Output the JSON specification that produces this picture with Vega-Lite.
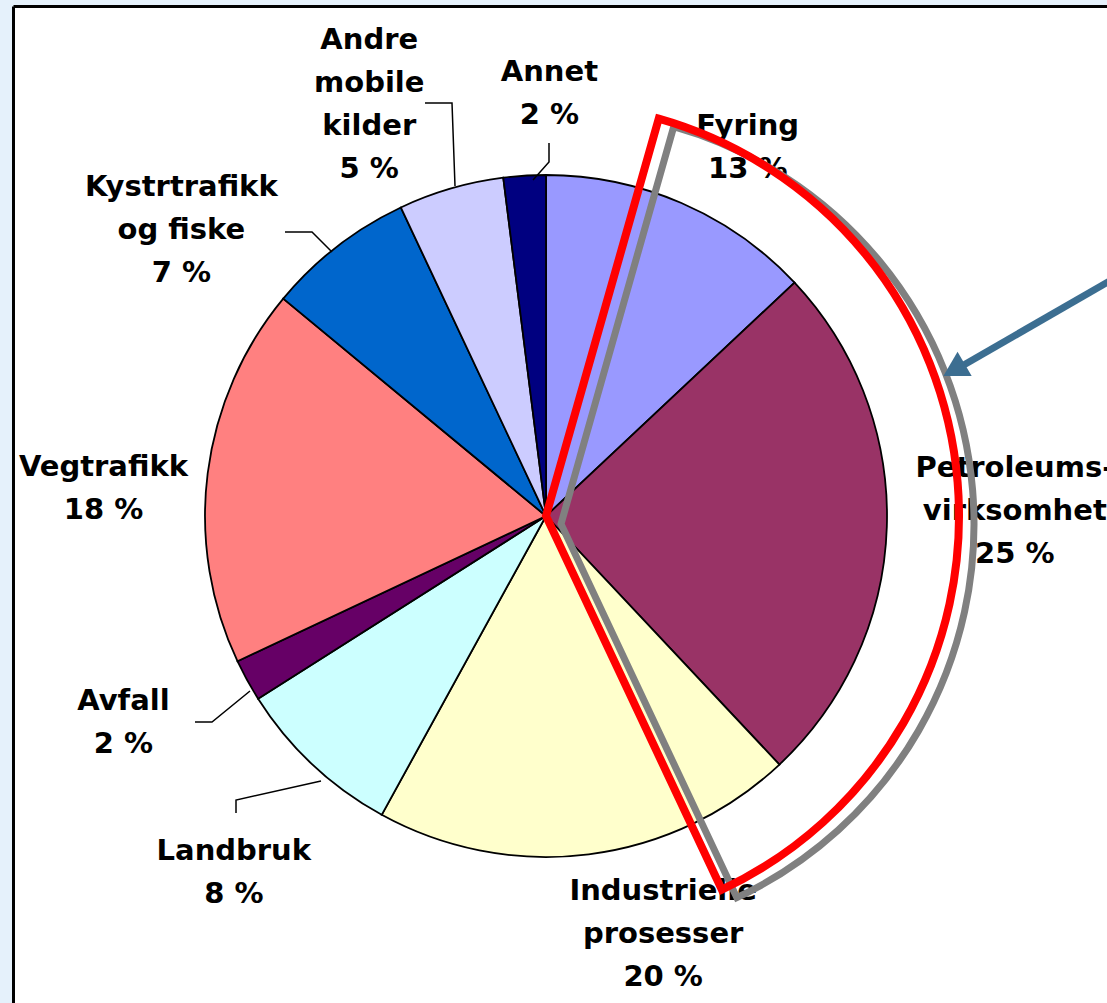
{
  "$schema": "https://vega.github.io/schema/vega-lite/v6.json",
  "width": 1094,
  "height": 997,
  "autosize": "none",
  "padding": {"left": 13, "top": 6, "right": 0, "bottom": 0},
  "background": "#E5F1FB",
  "config": {"view": {"fill": "white", "stroke": null}},
  "datasets": {
    "slices": [
      {"i": 1, "cat": "Fyring", "value": 13, "label": "Fyring\n13 %"},
      {"i": 2, "cat": "Petroleumsvirksomhet", "value": 25, "label": "Petroleums-\nvirksomhet\n25 %"},
      {"i": 3, "cat": "Industrielle prosesser", "value": 20, "label": "Industrielle\nprosesser\n20 %"},
      {"i": 4, "cat": "Landbruk", "value": 8, "label": "Landbruk\n8 %"},
      {"i": 5, "cat": "Avfall", "value": 2, "label": "Avfall\n2 %"},
      {"i": 6, "cat": "Vegtrafikk", "value": 18, "label": "Vegtrafikk\n18 %"},
      {"i": 7, "cat": "Kystrtrafikk og fiske", "value": 7, "label": "Kystrtrafikk\nog fiske\n7 %"},
      {"i": 8, "cat": "Andre mobile kilder", "value": 5, "label": "Andre\nmobile\nkilder\n5 %"},
      {"i": 9, "cat": "Annet", "value": 2, "label": "Annet\n2 %"}
    ],
    "leaders": [
      {"id": "andre", "k": 1, "x": -121, "y": 413},
      {"id": "andre", "k": 2, "x": -94, "y": 413},
      {"id": "andre", "k": 3, "x": -91, "y": 330},
      {"id": "annet", "k": 1, "x": 3, "y": 373},
      {"id": "annet", "k": 2, "x": 3, "y": 354},
      {"id": "annet", "k": 3, "x": -13, "y": 336},
      {"id": "kystr", "k": 1, "x": -261, "y": 284},
      {"id": "kystr", "k": 2, "x": -234, "y": 284},
      {"id": "kystr", "k": 3, "x": -214, "y": 264},
      {"id": "avfall", "k": 1, "x": -351, "y": -206},
      {"id": "avfall", "k": 2, "x": -334, "y": -206},
      {"id": "avfall", "k": 3, "x": -296, "y": -175},
      {"id": "landbruk", "k": 1, "x": -310, "y": -297},
      {"id": "landbruk", "k": 2, "x": -310, "y": -284},
      {"id": "landbruk", "k": 3, "x": -225, "y": -265}
    ],
    "wedge": [{"from": 4.4, "to": 43.0}],
    "arrow": [{"x": 574, "y": 241, "x2": 416, "y2": 150, "hx": 408, "hy": 146}]
  },
  "layer": [
    {
      "data": {"name": "slices"},
      "mark": {"type": "arc", "outerRadius": 341, "stroke": "black", "strokeWidth": 1.8},
      "encoding": {
        "x": {"datum": 0, "type": "quantitative", "scale": {"domain": [-533, 561], "nice": false, "zero": false}, "axis": {"orient": "top", "domainColor": "black", "domainWidth": 3, "ticks": false, "labels": false, "grid": false, "title": null}},
        "y": {"datum": 0, "type": "quantitative", "scale": {"domain": [-487, 510], "nice": false, "zero": false}, "axis": {"orient": "left", "domainColor": "black", "domainWidth": 3, "ticks": false, "labels": false, "grid": false, "title": null}},
        "theta": {"field": "value", "type": "quantitative", "stack": true},
        "order": {"field": "i"},
        "color": {"field": "cat", "type": "nominal", "legend": null,
          "scale": {"domain": ["Fyring", "Petroleumsvirksomhet", "Industrielle prosesser", "Landbruk", "Avfall", "Vegtrafikk", "Kystrtrafikk og fiske", "Andre mobile kilder", "Annet"],
                    "range": ["#9999FF", "#993366", "#FFFFCC", "#CCFFFF", "#660066", "#FF8080", "#0066CC", "#CCCCFF", "#000080"]}}
      }
    },
    {
      "data": {"name": "leaders"},
      "mark": {"type": "line", "stroke": "black", "strokeWidth": 1.5},
      "encoding": {
        "x": {"field": "x", "type": "quantitative", "axis": {"orient": "top", "domainColor": "black", "domainWidth": 3, "ticks": false, "labels": false, "grid": false, "title": null}},
        "y": {"field": "y", "type": "quantitative", "axis": {"orient": "left", "domainColor": "black", "domainWidth": 3, "ticks": false, "labels": false, "grid": false, "title": null}},
        "detail": {"field": "id"},
        "order": {"field": "k"}
      }
    },
    {"data": {"name": "slices"}, "mark": {"type": "text", "radius": 440, "dx": 27, "dy": 14, "font": "DejaVu Sans", "fontWeight": "bold", "fontSize": 29, "lineHeight": 43, "lineBreak": "\n", "align": "center", "baseline": "middle", "color": "black"},
     "encoding": {"x": {"datum": 0, "type": "quantitative"}, "y": {"datum": 0, "type": "quantitative"}, "theta": {"field": "value", "type": "quantitative", "stack": true}, "order": {"field": "i"}, "detail": {"field": "cat"}, "text": {"condition": {"test": "datum.cat === 'Fyring'", "field": "label"}, "value": ""}}},
    {"data": {"name": "slices"}, "mark": {"type": "text", "radius": 440, "dx": 29, "dy": -62, "font": "DejaVu Sans", "fontWeight": "bold", "fontSize": 29, "lineHeight": 43, "lineBreak": "\n", "align": "center", "baseline": "middle", "color": "black"},
     "encoding": {"x": {"datum": 0, "type": "quantitative"}, "y": {"datum": 0, "type": "quantitative"}, "theta": {"field": "value", "type": "quantitative", "stack": true}, "order": {"field": "i"}, "detail": {"field": "cat"}, "text": {"condition": {"test": "datum.cat === 'Petroleumsvirksomhet'", "field": "label"}, "value": ""}}},
    {"data": {"name": "slices"}, "mark": {"type": "text", "radius": 440, "dx": 62, "dy": -62, "font": "DejaVu Sans", "fontWeight": "bold", "fontSize": 29, "lineHeight": 43, "lineBreak": "\n", "align": "center", "baseline": "middle", "color": "black"},
     "encoding": {"x": {"datum": 0, "type": "quantitative"}, "y": {"datum": 0, "type": "quantitative"}, "theta": {"field": "value", "type": "quantitative", "stack": true}, "order": {"field": "i"}, "detail": {"field": "cat"}, "text": {"condition": {"test": "datum.cat === 'Industrielle prosesser'", "field": "label"}, "value": ""}}},
    {"data": {"name": "slices"}, "mark": {"type": "text", "radius": 440, "dx": -11, "dy": 14, "font": "DejaVu Sans", "fontWeight": "bold", "fontSize": 29, "lineHeight": 43, "lineBreak": "\n", "align": "center", "baseline": "middle", "color": "black"},
     "encoding": {"x": {"datum": 0, "type": "quantitative"}, "y": {"datum": 0, "type": "quantitative"}, "theta": {"field": "value", "type": "quantitative", "stack": true}, "order": {"field": "i"}, "detail": {"field": "cat"}, "text": {"condition": {"test": "datum.cat === 'Landbruk'", "field": "label"}, "value": ""}}},
    {"data": {"name": "slices"}, "mark": {"type": "text", "radius": 440, "dx": -37, "dy": -27, "font": "DejaVu Sans", "fontWeight": "bold", "fontSize": 29, "lineHeight": 43, "lineBreak": "\n", "align": "center", "baseline": "middle", "color": "black"},
     "encoding": {"x": {"datum": 0, "type": "quantitative"}, "y": {"datum": 0, "type": "quantitative"}, "theta": {"field": "value", "type": "quantitative", "stack": true}, "order": {"field": "i"}, "detail": {"field": "cat"}, "text": {"condition": {"test": "datum.cat === 'Avfall'", "field": "label"}, "value": ""}}},
    {"data": {"name": "slices"}, "mark": {"type": "text", "radius": 440, "dx": -6, "dy": 6, "font": "DejaVu Sans", "fontWeight": "bold", "fontSize": 29, "lineHeight": 43, "lineBreak": "\n", "align": "center", "baseline": "middle", "color": "black"},
     "encoding": {"x": {"datum": 0, "type": "quantitative"}, "y": {"datum": 0, "type": "quantitative"}, "theta": {"field": "value", "type": "quantitative", "stack": true}, "order": {"field": "i"}, "detail": {"field": "cat"}, "text": {"condition": {"test": "datum.cat === 'Vegtrafikk'", "field": "label"}, "value": ""}}},
    {"data": {"name": "slices"}, "mark": {"type": "text", "radius": 440, "dx": -95, "dy": 19, "font": "DejaVu Sans", "fontWeight": "bold", "fontSize": 29, "lineHeight": 43, "lineBreak": "\n", "align": "center", "baseline": "middle", "color": "black"},
     "encoding": {"x": {"datum": 0, "type": "quantitative"}, "y": {"datum": 0, "type": "quantitative"}, "theta": {"field": "value", "type": "quantitative", "stack": true}, "order": {"field": "i"}, "detail": {"field": "cat"}, "text": {"condition": {"test": "datum.cat === 'Kystrtrafikk og fiske'", "field": "label"}, "value": ""}}},
    {"data": {"name": "slices"}, "mark": {"type": "text", "radius": 440, "dx": -54, "dy": -53, "font": "DejaVu Sans", "fontWeight": "bold", "fontSize": 29, "lineHeight": 43, "lineBreak": "\n", "align": "center", "baseline": "middle", "color": "black"},
     "encoding": {"x": {"datum": 0, "type": "quantitative"}, "y": {"datum": 0, "type": "quantitative"}, "theta": {"field": "value", "type": "quantitative", "stack": true}, "order": {"field": "i"}, "detail": {"field": "cat"}, "text": {"condition": {"test": "datum.cat === 'Andre mobile kilder'", "field": "label"}, "value": ""}}},
    {"data": {"name": "slices"}, "mark": {"type": "text", "radius": 440, "dx": 31, "dy": -5, "font": "DejaVu Sans", "fontWeight": "bold", "fontSize": 29, "lineHeight": 43, "lineBreak": "\n", "align": "center", "baseline": "middle", "color": "black"},
     "encoding": {"x": {"datum": 0, "type": "quantitative"}, "y": {"datum": 0, "type": "quantitative"}, "theta": {"field": "value", "type": "quantitative", "stack": true}, "order": {"field": "i"}, "detail": {"field": "cat"}, "text": {"condition": {"test": "datum.cat === 'Annet'", "field": "label"}, "value": ""}}},
    {
      "data": {"name": "wedge"},
      "mark": {"type": "arc", "outerRadius": 413, "fillOpacity": 0, "stroke": "#808080", "strokeWidth": 7, "strokeJoin": "miter"},
      "encoding": {
        "x": {"datum": 15, "type": "quantitative"},
        "y": {"datum": -8, "type": "quantitative"},
        "theta": {"field": "from", "type": "quantitative"},
        "theta2": {"field": "to"}
      }
    },
    {
      "data": {"name": "wedge"},
      "mark": {"type": "arc", "outerRadius": 413, "fillOpacity": 0, "stroke": "#FF0000", "strokeWidth": 8, "strokeJoin": "miter"},
      "encoding": {
        "x": {"datum": 0, "type": "quantitative"},
        "y": {"datum": 0, "type": "quantitative"},
        "theta": {"field": "from", "type": "quantitative"},
        "theta2": {"field": "to"}
      }
    },
    {
      "data": {"name": "arrow"},
      "mark": {"type": "rule", "stroke": "#3C6E91", "strokeWidth": 7},
      "encoding": {
        "x": {"field": "x", "type": "quantitative"},
        "y": {"field": "y", "type": "quantitative"},
        "x2": {"field": "x2"},
        "y2": {"field": "y2"}
      }
    },
    {
      "data": {"name": "arrow"},
      "mark": {"type": "point", "shape": "triangle-left", "angle": -30, "size": 800, "filled": true, "color": "#3C6E91", "opacity": 1},
      "encoding": {
        "x": {"field": "hx", "type": "quantitative"},
        "y": {"field": "hy", "type": "quantitative"}
      }
    }
  ]
}
